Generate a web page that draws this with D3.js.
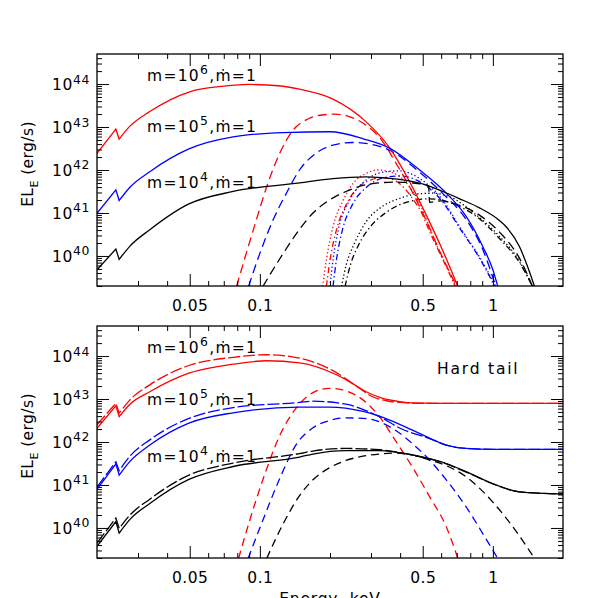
<!DOCTYPE html>
<html>
<head>
<meta charset="utf-8">
<script src="https://cdn.jsdelivr.net/npm/d3@7"></script>
<style>
  body { margin: 0; background: #fff; }
  text { font-family: "DejaVu Sans", sans-serif; fill: #000; }
</style>
</head>
<body>
<div id="chart"></div>
<script>
// each curve: [energy keV, log10 EL_E (erg/s)]

// upper panel
var topRedSolid = [[0.02,42.39],[0.0241,42.95],[0.0249,42.72],[0.0277,43.02],[0.0337,43.36],[0.05,43.82],[0.07,43.95],[0.09,43.99],[0.12,43.96],[0.148,43.88],[0.206,43.65],[0.286,43.12],[0.36,42.52],[0.44,41.72],[0.518,40.95],[0.61,40.12],[0.708,39.29]];
var topBlueSolid = [[0.02,40.99],[0.0241,41.54],[0.0249,41.29],[0.0277,41.6],[0.0337,41.96],[0.0496,42.49],[0.0768,42.77],[0.126,42.87],[0.2,42.89],[0.28,42.72],[0.36,42.51],[0.485,42.0],[0.61,41.54],[0.768,40.92],[0.905,40.22],[1.0,39.68],[1.05,39.29]];
var topBlackSolid = [[0.02,39.68],[0.0241,40.16],[0.0249,39.92],[0.0277,40.23],[0.0337,40.61],[0.0496,41.21],[0.0768,41.5],[0.148,41.7],[0.206,41.8],[0.286,41.84],[0.398,41.78],[0.518,41.65],[0.61,41.5],[0.72,41.33],[0.876,41.12],[1.07,40.82],[1.14,40.68],[1.3,40.22],[1.41,39.75],[1.51,39.29]];
var topRedDash = [[0.0794,39.29],[0.0874,40.06],[0.0966,40.84],[0.107,41.61],[0.1217,42.39],[0.139,42.93],[0.16,43.18],[0.185,43.28],[0.21,43.3],[0.24,43.25],[0.286,43.04],[0.335,42.68],[0.38,42.2],[0.44,41.6],[0.518,40.82],[0.61,39.95],[0.7,39.29]];
var topBlueDash = [[0.0894,39.29],[0.1,40.06],[0.114,40.84],[0.13,41.46],[0.148,42.0],[0.175,42.4],[0.206,42.58],[0.25,42.64],[0.3,42.6],[0.36,42.46],[0.485,41.95],[0.61,41.45],[0.768,40.85],[0.905,40.15],[1.03,39.29]];
var topBlackDash = [[0.103,39.29],[0.126,40.06],[0.148,40.62],[0.169,41.0],[0.199,41.3],[0.234,41.5],[0.277,41.64],[0.326,41.7],[0.38,41.72],[0.45,41.7],[0.53,41.63],[0.535,41.25],[0.6,41.28],[0.7,41.2],[0.876,40.95],[1.07,40.55],[1.3,39.95],[1.48,39.29]];
var topRedDot = [[0.186,39.29],[0.193,39.91],[0.206,40.68],[0.228,41.3],[0.259,41.77],[0.286,41.92],[0.32,42.0],[0.361,41.96],[0.398,41.85],[0.439,41.61],[0.485,41.22],[0.527,40.75],[0.59,40.1],[0.652,39.62],[0.69,39.29]];
var topRedDashDot = [[0.193,39.29],[0.2,39.9],[0.213,40.6],[0.235,41.2],[0.265,41.6],[0.3,41.77],[0.335,41.82],[0.37,41.78],[0.41,41.62],[0.45,41.35],[0.5,40.95],[0.53,40.62],[0.6,40.0],[0.65,39.6],[0.69,39.29]];
var topBlueDot = [[0.2,39.29],[0.206,39.9],[0.218,40.65],[0.243,41.3],[0.286,41.77],[0.349,41.96],[0.398,41.98],[0.454,41.89],[0.518,41.69],[0.61,41.3],[0.72,40.68],[0.876,39.98],[1.03,39.29]];
var topBlueDashDot = [[0.206,39.29],[0.213,39.9],[0.226,40.6],[0.25,41.2],[0.29,41.62],[0.34,41.82],[0.4,41.86],[0.455,41.8],[0.52,41.62],[0.61,41.25],[0.72,40.65],[0.876,39.95],[1.02,39.29]];
var topBlackDot = [[0.224,39.29],[0.235,39.8],[0.255,40.3],[0.286,40.8],[0.335,41.15],[0.398,41.34],[0.47,41.44],[0.55,41.46],[0.652,41.38],[0.82,41.02],[1.07,40.45],[1.3,39.88],[1.48,39.29]];
var topBlackDashDot = [[0.232,39.29],[0.245,39.8],[0.265,40.25],[0.3,40.7],[0.35,41.02],[0.41,41.22],[0.47,41.3],[0.53,41.33],[0.6,41.3],[0.7,41.18],[0.85,40.92],[1.07,40.4],[1.3,39.85],[1.48,39.29]];

// lower panel (hard tail)
var botRedSolid = [[0.02,42.32],[0.0241,42.84],[0.0249,42.59],[0.0277,42.88],[0.0337,43.17],[0.0496,43.6],[0.0768,43.81],[0.107,43.89],[0.148,43.84],[0.206,43.6],[0.243,43.4],[0.286,43.17],[0.335,43.02],[0.398,42.94],[0.454,42.91],[0.6,42.9],[2,42.9]];
var botRedLongDash = [[0.02,42.4],[0.0241,42.9],[0.0249,42.67],[0.0277,42.98],[0.0337,43.33],[0.0496,43.78],[0.0768,43.97],[0.107,44.03],[0.148,43.95],[0.206,43.66],[0.26,43.3],[0.3,43.07],[0.35,42.96],[0.4,42.92],[0.5,42.9],[2,42.9]];
var botRedShortDash = [[0.081,39.29],[0.0905,40.18],[0.103,41.12],[0.1217,42.15],[0.1436,42.8],[0.169,43.15],[0.199,43.25],[0.234,43.19],[0.277,42.98],[0.326,42.59],[0.38,42.05],[0.45,41.43],[0.535,40.73],[0.631,40.03],[0.708,39.29]];
var botBlueSolid = [[0.02,40.9],[0.0241,41.49],[0.0249,41.23],[0.0277,41.55],[0.0337,41.93],[0.0496,42.44],[0.0768,42.68],[0.148,42.81],[0.199,42.81],[0.277,42.71],[0.361,42.51],[0.45,42.28],[0.535,42.09],[0.631,41.93],[0.768,41.85],[1,41.83],[2,41.83]];
var botBlueLongDash = [[0.02,40.95],[0.0241,41.54],[0.0249,41.33],[0.0277,41.67],[0.0337,42.05],[0.0496,42.55],[0.0768,42.8],[0.148,42.92],[0.169,42.95],[0.234,42.88],[0.326,42.59],[0.4,42.32],[0.535,42.08],[0.631,41.93],[0.768,41.85],[1,41.83],[2,41.83]];
var botBlueShortDash = [[0.089,39.29],[0.103,40.18],[0.1217,41.15],[0.1436,41.95],[0.169,42.33],[0.199,42.5],[0.234,42.56],[0.277,42.55],[0.326,42.47],[0.38,42.28],[0.45,41.97],[0.535,41.58],[0.631,41.12],[0.768,40.49],[0.905,39.87],[1.05,39.29]];
var botBlackSolid = [[0.02,39.57],[0.0241,40.15],[0.0249,39.88],[0.0277,40.2],[0.0337,40.57],[0.0496,41.13],[0.0768,41.43],[0.148,41.65],[0.169,41.72],[0.234,41.8],[0.326,41.8],[0.45,41.7],[0.631,41.5],[0.768,41.31],[1.03,41.0],[1.3,40.84],[2,40.79]];
var botBlackLongDash = [[0.02,39.65],[0.0241,40.23],[0.0249,39.99],[0.0277,40.3],[0.0337,40.67],[0.0496,41.23],[0.0768,41.51],[0.148,41.73],[0.169,41.79],[0.234,41.85],[0.326,41.82],[0.45,41.7],[0.631,41.49],[0.768,41.3],[1.03,41.0],[1.3,40.84],[2,40.79]];
var botBlackShortDash = [[0.107,39.29],[0.126,40.1],[0.148,40.75],[0.169,41.12],[0.199,41.4],[0.234,41.57],[0.277,41.67],[0.326,41.72],[0.38,41.74],[0.45,41.7],[0.535,41.58],[0.631,41.45],[0.768,41.19],[1.0,40.6],[1.217,40.03],[1.51,39.29]];

// ticks and labels
var xMajor = [0.05, 0.1, 0.5, 1];
var xMinor = [0.03, 0.04, 0.06, 0.07, 0.08, 0.09, 0.2, 0.3, 0.4, 0.6, 0.7, 0.8, 0.9];
var yPowers = [40, 41, 42, 43, 44];
var massPowers = [6, 5, 4];

// set the dimensions of the two panels
var left = 97, width = 466, panelH = 232;
var panelTops = [54, 326];

var x = d3.scaleLog().domain([0.02, 2]).range([0, width]);
var y = d3.scaleLog().domain([2e39, 5e44]).range([panelH, 0]);

var yMinor = [];
for (var p = 39; p <= 44; p++) {
  for (var k = 2; k <= 9; k++) {
    var v = k * Math.pow(10, p);
    if (v >= 2e39 && v <= 5e44) yMinor.push(v);
  }
}

var svg = d3.select("#chart").append("svg")
    .attr("width", 598)
    .attr("height", 598);

var line = d3.line()
    .curve(d3.curveMonotoneX)
    .x(function(d) { return x(d[0]); })
    .y(function(d) { return y(Math.pow(10, d[1])); });

// smooth curve, but keep the sharp sawtooth drops (absorption edges) straight
function curvePath(data) {
  var pieces = [], cur = [data[0]];
  for (var i = 1; i < data.length; i++) {
    var prevUp = i >= 2 && data[i - 1][1] > data[i - 2][1];
    var down = data[i][1] < data[i - 1][1];
    var close = data[i][0] / data[i - 1][0] < 1.05;
    if (prevUp && down && close) {
      pieces.push(cur);
      pieces.push([data[i - 1], data[i]]);
      cur = [data[i]];
    } else {
      cur.push(data[i]);
    }
  }
  pieces.push(cur);
  return pieces.map(function(pc, j) {
    var s = line(pc);
    return j === 0 ? s : "L" + s.slice(1);
  }).join("");
}

// writes text with superscript / subscript pieces
function richText(sel, parts, size) {
  var shift = 0;
  parts.forEach(function(p) {
    var target = p.sup ? -0.42 * size : (p.sub ? 0.3 * size : 0);
    sel.append("tspan")
        .attr("dy", target - shift)
        .attr("font-size", p.sup ? size * 0.8 : (p.sub ? size * 0.72 : size))
        .text(p.t);
    shift = target;
  });
}

function tickAxis(g, axis, tr) {
  g.append("g")
      .attr("transform", tr)
      .call(axis)
      .call(function(a) { a.select(".domain").remove(); })
      .selectAll("line").attr("stroke", "#000").attr("stroke-width", 1);
}

function drawPanel(idx, curves, labelDy) {
  var g = svg.append("g")
      .attr("transform", "translate(" + left + "," + panelTops[idx] + ")");

  g.append("clipPath").attr("id", "clip" + idx)
    .append("rect").attr("width", width).attr("height", panelH);

  var plot = g.append("g").attr("clip-path", "url(#clip" + idx + ")");
  curves.forEach(function(c) {
    plot.append("path")
        .attr("fill", "none")
        .attr("stroke", c.color)
        .attr("stroke-width", 1.3)
        .attr("stroke-dasharray", c.dash)
        .attr("d", curvePath(c.data));
  });

  // major and minor ticks on all four sides, pointing inward
  tickAxis(g, d3.axisBottom(x).tickValues(xMajor).tickSizeInner(-12).tickSizeOuter(0)
      .tickPadding(14).tickFormat(function(d) { return String(d); }), "translate(0," + panelH + ")");
  tickAxis(g, d3.axisBottom(x).tickValues(xMinor).tickSizeInner(-5).tickSizeOuter(0).tickFormat(""), "translate(0," + panelH + ")");
  tickAxis(g, d3.axisTop(x).tickValues(xMajor).tickSizeInner(-12).tickSizeOuter(0).tickFormat(""), "translate(0,0)");
  tickAxis(g, d3.axisTop(x).tickValues(xMinor).tickSizeInner(-5).tickSizeOuter(0).tickFormat(""), "translate(0,0)");
  var yMaj = yPowers.map(function(p) { return Math.pow(10, p); });
  tickAxis(g, d3.axisLeft(y).tickValues(yMaj).tickSizeInner(-12).tickSizeOuter(0).tickFormat(""), "translate(0,0)");
  tickAxis(g, d3.axisLeft(y).tickValues(yMinor).tickSizeInner(-5).tickSizeOuter(0).tickFormat(""), "translate(0,0)");
  tickAxis(g, d3.axisRight(y).tickValues(yMaj).tickSizeInner(-12).tickSizeOuter(0).tickFormat(""), "translate(" + width + ",0)");
  tickAxis(g, d3.axisRight(y).tickValues(yMinor).tickSizeInner(-5).tickSizeOuter(0).tickFormat(""), "translate(" + width + ",0)");

  g.selectAll(".tick text")
      .attr("font-size", 15.5)
      .attr("font-family", "DejaVu Sans, sans-serif")
      .attr("letter-spacing", 0.5)
      .attr("fill", "#000");

  // y tick labels as powers of ten
  yPowers.forEach(function(p) {
    var t = g.append("text")
        .attr("x", -7)
        .attr("y", y(Math.pow(10, p)) + 6)
        .attr("text-anchor", "end")
        .attr("letter-spacing", 0.6);
    richText(t, [{t: "10"}, {t: String(p), sup: true}], 15.5);
  });

  // frame
  g.append("rect")
      .attr("width", width)
      .attr("height", panelH)
      .attr("fill", "none")
      .attr("stroke", "#000")
      .attr("stroke-width", 1.3);

  // y axis title
  var yt = g.append("text")
      .attr("transform", "translate(-64," + (panelH / 2 - 6) + ") rotate(-90)")
      .attr("text-anchor", "middle")
      .attr("letter-spacing", 0.4);
  richText(yt, [{t: "EL"}, {t: "E", sub: true}, {t: " (erg/s)"}], 15.5);

  // curve labels
  massPowers.forEach(function(m, i) {
    var t = g.append("text")
        .attr("x", 50)
        .attr("y", labelDy[i])
        .attr("letter-spacing", 1.3);
    richText(t, [{t: "m=10"}, {t: String(m), sup: true}, {t: ",\u1e41=1"}], 15.5);
  });

  return g;
}

var dash = "9,5", longDash = "12,3", shortDash = "8,5", dot = "1.3,2.4", dashDot = "6,3,1.3,3";

drawPanel(0, [
  {data: topRedDot, color: "red", dash: dot},
  {data: topRedDashDot, color: "red", dash: dashDot},
  {data: topBlueDot, color: "blue", dash: dot},
  {data: topBlueDashDot, color: "blue", dash: dashDot},
  {data: topBlackDot, color: "black", dash: dot},
  {data: topBlackDashDot, color: "black", dash: dashDot},
  {data: topRedDash, color: "red", dash: dash},
  {data: topBlueDash, color: "blue", dash: dash},
  {data: topBlackDash, color: "black", dash: dash},
  {data: topRedSolid, color: "red", dash: null},
  {data: topBlueSolid, color: "blue", dash: null},
  {data: topBlackSolid, color: "black", dash: null}
], [27, 78, 134]);

var g2 = drawPanel(1, [
  {data: botRedShortDash, color: "red", dash: shortDash},
  {data: botBlueShortDash, color: "blue", dash: shortDash},
  {data: botBlackShortDash, color: "black", dash: shortDash},
  {data: botRedLongDash, color: "red", dash: longDash},
  {data: botBlueLongDash, color: "blue", dash: longDash},
  {data: botBlackLongDash, color: "black", dash: longDash},
  {data: botRedSolid, color: "red", dash: null},
  {data: botBlueSolid, color: "blue", dash: null},
  {data: botBlackSolid, color: "black", dash: null}
], [27, 79, 136]);

g2.append("text")
    .attr("x", 340)
    .attr("y", 48)
    .attr("font-size", 15.5)
    .attr("letter-spacing", 1.8)
    .text("Hard tail");

// x axis title, mostly below the window
svg.append("text")
    .attr("x", left + width / 2)
    .attr("y", 604)
    .attr("text-anchor", "middle")
    .attr("font-size", 15.5)
    .attr("letter-spacing", 0.8)
    .text("Energy, keV");
</script>
</body>
</html>
